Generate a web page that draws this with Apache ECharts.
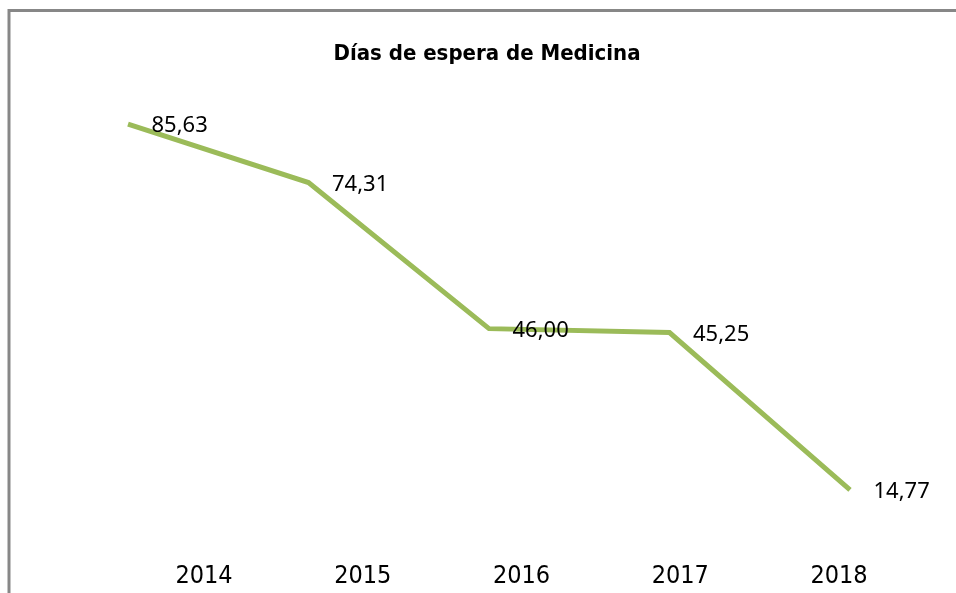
<!DOCTYPE html>
<html>
<head>
<meta charset="utf-8">
<script src="https://cdn.jsdelivr.net/npm/echarts@6/dist/echarts.min.js"></script>
<style>
html,body{margin:0;padding:0;background:#fff;}
#chart{width:956px;height:593px;}
</style>
</head>
<body>
<div id="chart"></div>
<script>
var titleText = 'Días de espera de Medicina';
var categories = ['2014', '2015', '2016', '2017', '2018'];
var values = [85.63, 74.31, 46.00, 45.25, 14.77];

var condensed = '"DejaVu Sans Condensed", "Liberation Sans Narrow", "Liberation Sans", sans-serif';

var chart = echarts.init(document.getElementById('chart'), null, {renderer: 'canvas'});
chart.setOption({
  backgroundColor: '#ffffff',
  animation: false,
  title: {
    text: titleText,
    left: 482,
    top: 38,
    textAlign: 'center',
    textStyle: {
      fontFamily: condensed,
      fontWeight: 'bold',
      fontSize: 22,
      color: '#000'
    }
  },
  graphic: [{
    type: 'rect',
    shape: {x: 9, y: 10.5, width: 1200, height: 900},
    style: {fill: 'none', stroke: '#878787', lineWidth: 3},
    silent: true,
    z: 100
  }],
  grid: [
    {left: 128, right: 106, top: 50, bottom: 27},
    {left: 204, right: 117, top: 50, bottom: 40}
  ],
  xAxis: [
    {
      gridIndex: 0, type: 'category', data: categories, boundaryGap: false,
      axisLine: {show: false}, axisTick: {show: false}, axisLabel: {show: false}, splitLine: {show: false}
    },
    {
      gridIndex: 1, type: 'category', data: categories, boundaryGap: false,
      axisLine: {show: false}, axisTick: {show: false}, splitLine: {show: false},
      axisLabel: {
        show: true, margin: 11,
        fontFamily: condensed,
        fontSize: 25, color: '#000'
      }
    }
  ],
  yAxis: [
    {gridIndex: 0, type: 'value', min: 0, max: 100, show: false},
    {gridIndex: 1, type: 'value', min: 0, max: 100, show: false}
  ],
  series: [{
    type: 'line',
    xAxisIndex: 0, yAxisIndex: 0,
    data: values,
    showSymbol: true,
    symbol: 'circle',
    symbolSize: 1,
    itemStyle: {color: 'rgba(0,0,0,0)'},
    lineStyle: {color: '#9BBB59', width: 5, join: 'miter'},
    label: {
      show: true,
      position: 'right',
      distance: 23,
      offset: [0, 2],
      formatter: function (p) { return p.value.toFixed(2).replace('.', ','); },
      fontFamily: '"Noto Sans", "Open Sans", sans-serif',
      fontSize: 22,
      color: '#000'
    }
  }]
});
</script>
</body>
</html>
